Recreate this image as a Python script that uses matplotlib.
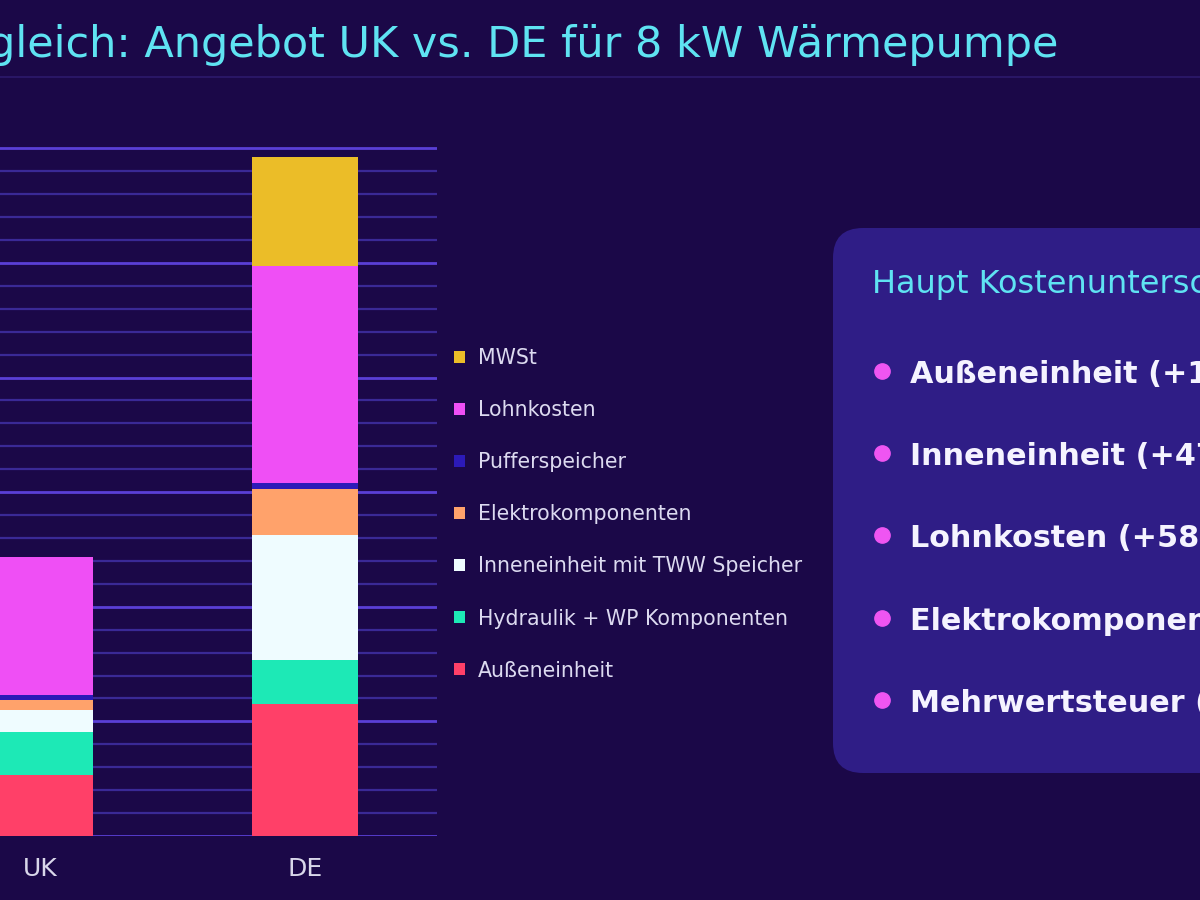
import matplotlib
matplotlib.use('Agg')
import matplotlib.pyplot as plt
from matplotlib.patches import FancyBboxPatch
from matplotlib.ticker import MultipleLocator

# ---------------- data ----------------
countries = ['UK', 'DE']
series_names = ['Außeneinheit', 'Hydraulik + WP Komponenten', 'Inneneinheit mit TWW Speicher',
                'Elektrokomponenten', 'Pufferspeicher', 'Lohnkosten', 'MWSt']
aussen = [1060, 2300]
hydraulik = [750, 770]
innen = [380, 2190]
elektro = [175, 800]
puffer = [100, 100]
lohn = [2400, 3790]
mwst = [0, 1900]
series_colors = ['#ff4068', '#1de9b6', '#effcff', '#ffa26b', '#2c1ab8', '#ef4ff5', '#ebbd28']

title = 'Kostenvergleich: Angebot UK vs. DE für 8 kW Wärmepumpe'
panel_title = 'Haupt Kostenunterschiede'
panel_items = ['Außeneinheit (+117%)', 'Inneneinheit (+476%)', 'Lohnkosten (+58%)',
               'Elektrokomponenten (+357%)', 'Mehrwertsteuer (19%)']

BG = '#1b0848'
PANEL = '#2f1d86'
CYAN = '#5fe3f2'
FONT = 'DejaVu Sans'

plt.rcParams['font.family'] = [FONT]

fig = plt.figure(figsize=(12, 9), dpi=100, facecolor=BG)

# ---------------- chart axes (partly off-canvas, as in the cropped reference) ----------------
px_per_unit = (836 - 148.3) / 12000.0
ytop = 12300
ax = fig.add_axes([-92 / 1200, (900 - 836) / 900, 529 / 1200, ytop * px_per_unit / 900])
ax.set_facecolor(BG)
ax.set_xlim(-0.5, 1.5)
ax.set_ylim(0, ytop)

x = list(range(len(countries)))
all_series = [aussen, hydraulik, innen, elektro, puffer, lohn, mwst]
bottom = [0] * len(countries)
for name, vals, col in zip(series_names, all_series, series_colors):
    ax.bar(x, vals, width=0.4, bottom=bottom, color=col, label=name, zorder=3, linewidth=0)
    bottom = [b + v for b, v in zip(bottom, vals)]

ax.yaxis.set_major_locator(MultipleLocator(2000))
ax.yaxis.set_minor_locator(MultipleLocator(400))
ax.grid(axis='y', which='major', color='#5a3fd6', linewidth=2.0, zorder=0)
ax.grid(axis='y', which='minor', color='#3a2996', linewidth=1.6, zorder=0)
ax.grid(axis='x', visible=False)
for s in ax.spines.values():
    s.set_visible(False)
ax.tick_params(axis='y', which='both', left=False, labelleft=False)
ax.tick_params(axis='x', length=0, pad=15, labelsize=18, labelcolor='#d9d7ea')
ax.set_xticks(x)
ax.set_xticklabels(countries)

handles, labels = ax.get_legend_handles_labels()
leg = fig.legend(handles[::-1], labels[::-1], loc='upper left',
                 bbox_to_anchor=(446 / 1200, 1 - 340 / 900), frameon=False,
                 fontsize=14.8, labelcolor='#dcdaf0', handlelength=0.52, handleheight=0.52,
                 handletextpad=0.62, labelspacing=1.56, borderaxespad=0)

# ---------------- overlay in pixel coordinates ----------------
ov = fig.add_axes([0, 0, 1, 1])
ov.set_xlim(0, 1200)
ov.set_ylim(900, 0)
ov.axis('off')

ov.text(1058, 57, title, ha='right', va='baseline', fontsize=31.0, color=CYAN)
ov.plot([0, 1200], [77, 77], color='#2c1a6c', linewidth=1.2)

panel = FancyBboxPatch((833, 228), 420, 545, boxstyle='round,pad=0,rounding_size=30',
                       facecolor=PANEL, edgecolor='none')
ov.add_patch(panel)
ov.text(872, 293, panel_title, ha='left', va='baseline', fontsize=23, color=CYAN)
for i, item in enumerate(panel_items):
    yc = 371 + i * 82.2
    ov.plot([882], [yc], 'o', color='#ef55f2', markersize=11)
    ov.text(910, yc + 12, item, ha='left', va='baseline', fontsize=21.8, fontweight='bold',
            color='#f5f3ff')

fig.savefig('out.png', dpi=100, facecolor=BG)
